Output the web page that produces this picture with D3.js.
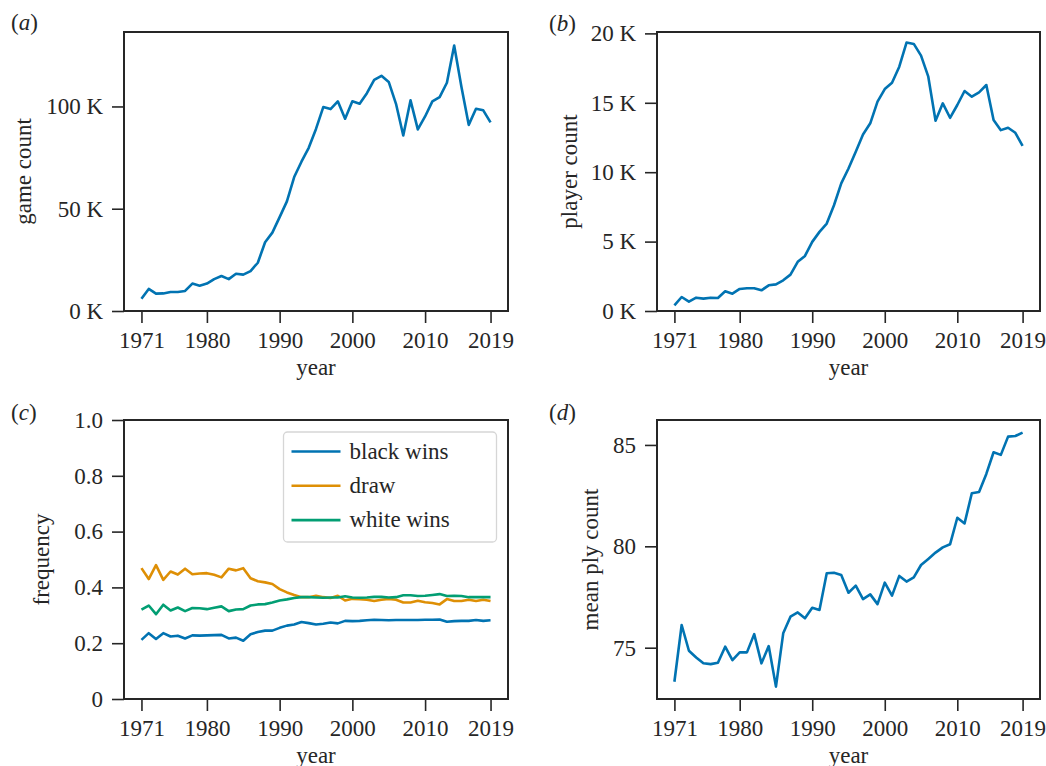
<!DOCTYPE html>
<html>
<head>
<meta charset="utf-8">
<script src="https://cdn.jsdelivr.net/npm/d3@7"></script>
<style>
  html, body { margin: 0; padding: 0; background: #fff; }
  svg { display: block; }
  text { font-family: "Liberation Serif", "Times New Roman", serif; fill: #262626; }
</style>
</head>
<body>
<svg id="fig" width="1046" height="766"></svg>
<script>
// chess game stats, 1971-2019, four panels

const years = d3.range(1971, 2020);
const yearTicks = [1971, 1980, 1990, 2000, 2010, 2019];

// (a) games per year
const gameCount = [
  6000, 10800, 8500, 8600, 9300, 9300, 9800, 13400, 12400, 13400,
  15600, 17100, 15600, 18200, 17800, 19500, 23600, 33600, 38300, 45900,
  53600, 65500, 73000, 79800, 89000, 99700, 98700, 102500, 94000, 102500,
  101300, 106500, 113000, 115000, 112000, 101300, 85800, 103000, 88800, 95100,
  102500, 104600, 111600, 129800, 109500, 91000, 98900, 98100, 92200
];

// (b) players per year
const playerCount = [
  410, 1010, 670, 960, 890, 960, 940, 1420, 1250, 1590,
  1640, 1640, 1490, 1850, 1920, 2210, 2620, 3540, 3970, 4980,
  5700, 6300, 7620, 9190, 10270, 11470, 12720, 13520, 15080, 15990,
  16450, 17600, 19340, 19240, 18400, 16880, 13710, 14960, 13920, 14840,
  15850, 15440, 15750, 16280, 13760, 13030, 13200, 12840, 11900
];

// (c) result frequencies
const blackWins = [
  0.212, 0.236, 0.215, 0.236, 0.224, 0.227, 0.217, 0.228, 0.227, 0.228,
  0.229, 0.230, 0.217, 0.220, 0.209, 0.232, 0.240, 0.245, 0.245, 0.255,
  0.263, 0.267, 0.276, 0.272, 0.267, 0.270, 0.274, 0.271, 0.280, 0.279,
  0.280, 0.282, 0.284, 0.283, 0.282, 0.283, 0.283, 0.283, 0.283, 0.284,
  0.284, 0.285, 0.277, 0.279, 0.280, 0.280, 0.283, 0.280, 0.282
];
const draws = [
  0.469, 0.430, 0.480, 0.427, 0.457, 0.446, 0.467, 0.447, 0.450, 0.451,
  0.445, 0.436, 0.467, 0.461, 0.469, 0.433, 0.422, 0.418, 0.412, 0.394,
  0.382, 0.373, 0.365, 0.365, 0.370, 0.365, 0.362, 0.370, 0.353, 0.359,
  0.358, 0.356, 0.351, 0.356, 0.359, 0.356, 0.346, 0.346, 0.352, 0.347,
  0.344, 0.339, 0.358, 0.351, 0.351, 0.356, 0.351, 0.356, 0.351
];
const whiteWins = [
  0.320, 0.335, 0.304, 0.338, 0.317, 0.328, 0.315, 0.326, 0.325, 0.322,
  0.327, 0.332, 0.315, 0.321, 0.322, 0.335, 0.339, 0.340, 0.346, 0.353,
  0.357, 0.362, 0.365, 0.365, 0.364, 0.363, 0.364, 0.364, 0.368, 0.364,
  0.363, 0.364, 0.366, 0.366, 0.364, 0.365, 0.372, 0.372, 0.369, 0.370,
  0.373, 0.376, 0.369, 0.370, 0.369, 0.365, 0.365, 0.365, 0.365
];
const resultNames = ["black wins", "draw", "white wins"];

// (d) mean ply count
const meanPly = [
  73.32, 76.12, 74.85, 74.52, 74.23, 74.19, 74.26, 75.05, 74.39, 74.77,
  74.77, 75.67, 74.23, 75.08, 73.08, 75.71, 76.53, 76.74, 76.45, 76.97,
  76.86, 78.67, 78.70, 78.59, 77.71, 78.06, 77.40, 77.63, 77.15, 78.21,
  77.57, 78.54, 78.26, 78.47, 79.08, 79.38, 79.69, 79.95, 80.10, 81.41,
  81.13, 82.62, 82.68, 83.57, 84.64, 84.51, 85.41, 85.44, 85.61
];

const BLUE = "#0173b2", ORANGE = "#de8f05", GREEN = "#029e73";
const INK = "#262626";
const FS = 23;
const TICK = 12;

const svg = d3.select("#fig");

function kFmt(d) { return d === 0 ? "0 K" : (d / 1000) + " K"; }

function panel(opts) {
  const { x0, x1, y0, y1, yDomain, yTicks, yFmt, ylabel, ylabelX, tag, tagX, tagY } = opts;

  const x = d3.scaleLinear().domain([1968.6, 2021.4]).range([x0, x1]);
  const y = d3.scaleLinear().domain(yDomain).range([y1, y0]);

  const g = svg.append("g");

  // x axis
  const xa = g.append("g")
    .attr("transform", `translate(0,${y1})`)
    .call(d3.axisBottom(x).tickValues(yearTicks).tickFormat(d3.format("d"))
      .tickSize(TICK).tickSizeOuter(0).tickPadding(9));
  // y axis
  const ya = g.append("g")
    .attr("transform", `translate(${x0},0)`)
    .call(d3.axisLeft(y).tickValues(yTicks).tickFormat(yFmt)
      .tickSize(TICK).tickSizeOuter(0).tickPadding(9));

  [xa, ya].forEach(a => {
    a.select(".domain").remove();
    a.selectAll(".tick line").attr("stroke", INK).attr("stroke-width", 1.6);
    a.selectAll(".tick text")
      .attr("fill", INK)
      .attr("font-size", FS + "px")
      .attr("font-family", '"Liberation Serif", "Times New Roman", serif');
  });

  // series
  opts.series.forEach(s => {
    g.append("path")
      .datum(s.values)
      .attr("fill", "none")
      .attr("stroke", s.color)
      .attr("stroke-width", 2.6)
      .attr("stroke-linejoin", "round")
      .attr("d", d3.line().x((d, i) => x(years[i])).y(d => y(d)));
  });

  // frame
  g.append("rect")
    .attr("x", x0).attr("y", y0)
    .attr("width", x1 - x0).attr("height", y1 - y0)
    .attr("fill", "none").attr("stroke", INK).attr("stroke-width", 2);

  // labels
  g.append("text")
    .attr("x", (x0 + x1) / 2).attr("y", y1 + 64)
    .attr("text-anchor", "middle")
    .attr("font-size", FS + "px")
    .text("year");

  g.append("text")
    .attr("transform", `translate(${ylabelX},${(y0 + y1) / 2}) rotate(-90)`)
    .attr("text-anchor", "middle")
    .attr("font-size", FS + "px")
    .text(ylabel);

  const t = g.append("text")
    .attr("x", tagX).attr("y", tagY)
    .attr("font-size", FS + "px");
  t.append("tspan").text("(");
  t.append("tspan").attr("font-style", "italic").text(tag);
  t.append("tspan").text(")");

  return { x, y, g };
}

panel({
  x0: 124, x1: 508, y0: 32, y1: 311,
  yDomain: [0, 136400], yTicks: [0, 50000, 100000], yFmt: kFmt,
  ylabel: "game count", ylabelX: 31, tag: "a", tagX: 11, tagY: 29.5,
  series: [{ values: gameCount, color: BLUE }]
});

panel({
  x0: 657, x1: 1040, y0: 32, y1: 311,
  yDomain: [0, 20100], yTicks: [0, 5000, 10000, 15000, 20000], yFmt: kFmt,
  ylabel: "player count", ylabelX: 577, tag: "b", tagX: 549, tagY: 30.5,
  series: [{ values: playerCount, color: BLUE }]
});

const pc = panel({
  x0: 124, x1: 508, y0: 420, y1: 699,
  yDomain: [0, 1], yTicks: [0, 0.2, 0.4, 0.6, 0.8, 1.0],
  yFmt: d => d === 0 ? "0" : d.toFixed(1),
  ylabel: "frequency", ylabelX: 49, tag: "c", tagX: 11, tagY: 420,
  series: [
    { values: blackWins, color: BLUE },
    { values: draws, color: ORANGE },
    { values: whiteWins, color: GREEN }
  ]
});

panel({
  x0: 657, x1: 1040, y0: 420, y1: 699,
  yDomain: [72.47, 86.23], yTicks: [75, 80, 85], yFmt: d3.format("d"),
  ylabel: "mean ply count", ylabelX: 598, tag: "d", tagX: 549, tagY: 420,
  series: [{ values: meanPly, color: BLUE }]
});

// legend for panel (c)
const leg = pc.g.append("g").attr("transform", "translate(283.5,432)");
leg.append("rect")
  .attr("width", 213).attr("height", 110).attr("rx", 4)
  .attr("fill", "#fff").attr("fill-opacity", 0.8)
  .attr("stroke", "#d6d6d6").attr("stroke-width", 1.3);
[BLUE, ORANGE, GREEN].forEach((c, i) => {
  const cy = 19.5 + i * 34.3;
  leg.append("line")
    .attr("x1", 8).attr("x2", 57).attr("y1", cy).attr("y2", cy)
    .attr("stroke", c).attr("stroke-width", 2.6);
  leg.append("text")
    .attr("x", 66).attr("y", cy).attr("dy", "0.32em")
    .attr("font-size", FS + "px")
    .text(resultNames[i]);
});
</script>
</body>
</html>
